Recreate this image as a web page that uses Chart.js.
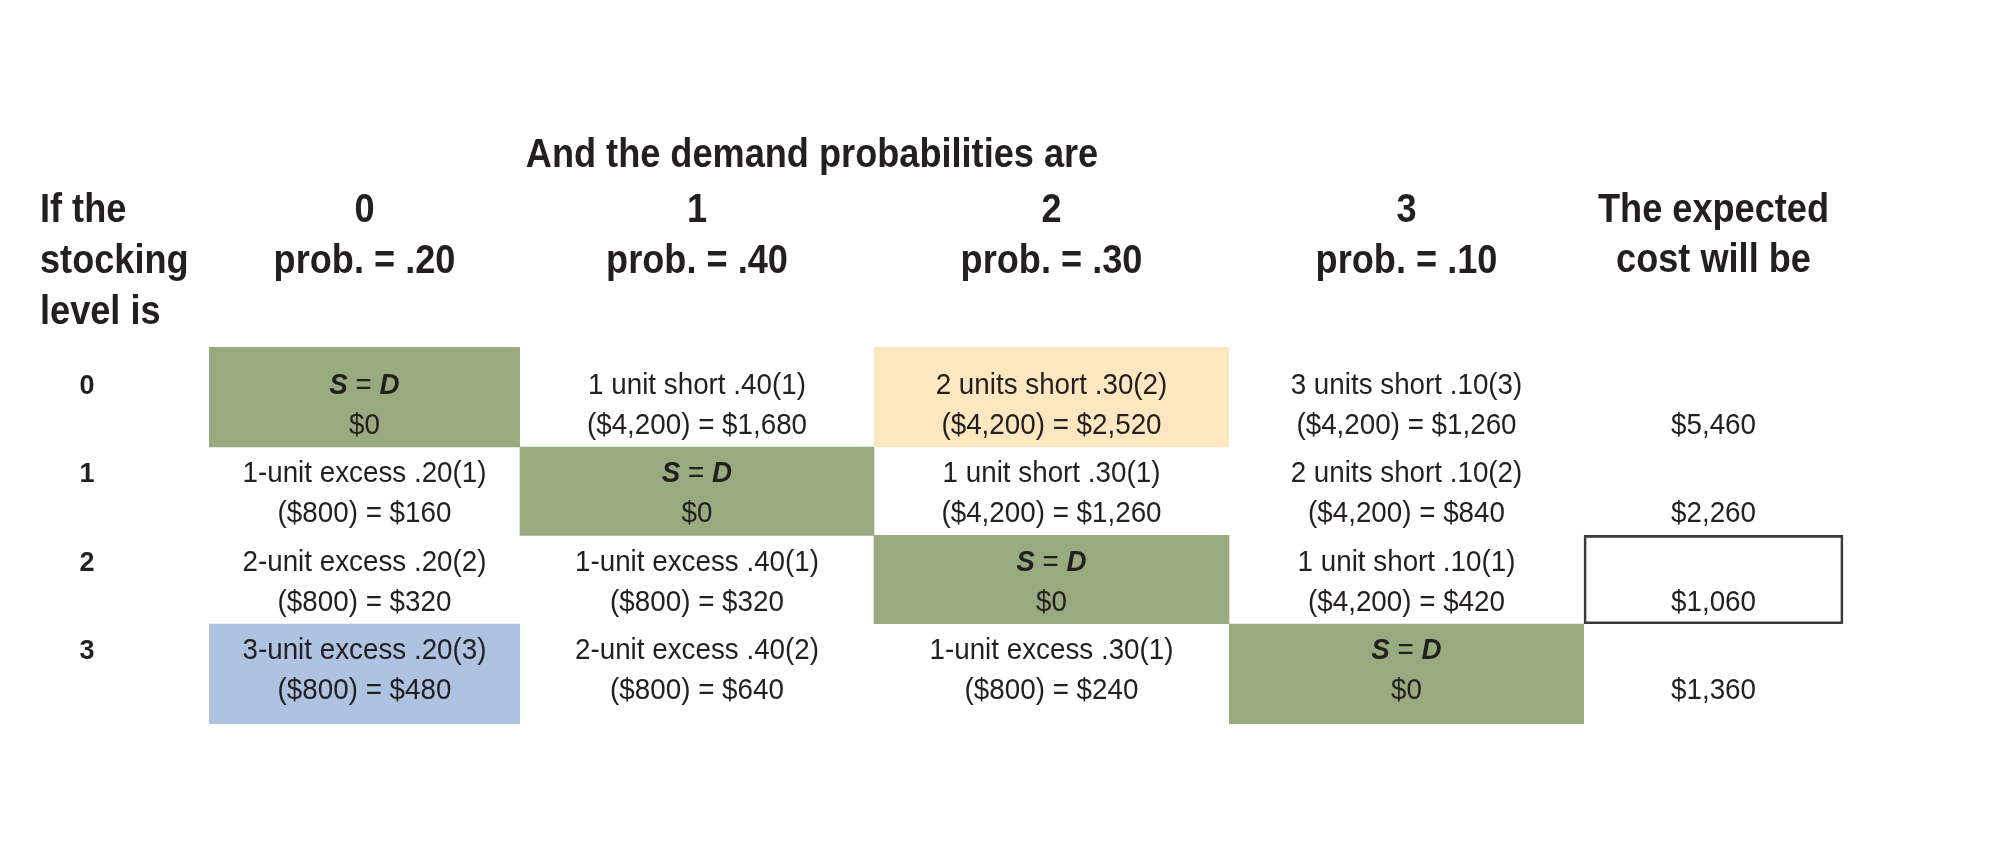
<!DOCTYPE html>
<html><head><meta charset="utf-8">
<script src="https://cdn.jsdelivr.net/npm/chart.js@4.4.1/dist/chart.umd.min.js"></script>
<style>html,body{margin:0;padding:0;background:#fff}#wrap{width:2014px;height:842px;position:relative}</style>
</head><body><div id="wrap"><canvas id="c"></canvas></div>
<script>
// ---------------- data ----------------
const titleText = 'And the demand probabilities are';
const stubHeader = ['If the', 'stocking', 'level is'];
const costHeader = ['The expected', 'cost will be'];
const stockLevels = ['0', '1', '2', '3'];
const demandLevels = ['0', '1', '2', '3'];
const demandProbs = ['.20', '.40', '.30', '.10'];
const cellTop = [
  ['S = D', '1 unit short .40(1)', '2 units short .30(2)', '3 units short .10(3)'],
  ['1-unit excess .20(1)', 'S = D', '1 unit short .30(1)', '2 units short .10(2)'],
  ['2-unit excess .20(2)', '1-unit excess .40(1)', 'S = D', '1 unit short .10(1)'],
  ['3-unit excess .20(3)', '2-unit excess .40(2)', '1-unit excess .30(1)', 'S = D']
];
const cellBottom = [
  ['$0', '($4,200) = $1,680', '($4,200) = $2,520', '($4,200) = $1,260'],
  ['($800) = $160', '$0', '($4,200) = $1,260', '($4,200) = $840'],
  ['($800) = $320', '($800) = $320', '$0', '($4,200) = $420'],
  ['($800) = $480', '($800) = $640', '($800) = $240', '$0']
];
const cellKind = [
  ['match', '', 'maxShort', ''],
  ['', 'match', '', ''],
  ['', '', 'match', ''],
  ['maxExcess', '', '', 'match']
];
const expectedCost = [5460, 2260, 1060, 1360];

// ---------------- layout / style ----------------
const colEdges = [209, 520, 874, 1229, 1584, 1843];      // x-axis units
const rowTop = [-0.634, 0.5, 1.5, 2.5];                   // y-axis units (row index)
const rowBottom = [0.5, 1.5, 2.5, 3.635];
const rowOriginPx = 403, rowPitchPx = 88.3;
const Y_MIN = -rowOriginPx / rowPitchPx, Y_MAX = (842 - rowOriginPx) / rowPitchPx;
const kindColor = { match: '#98ab7e', maxShort: '#fde7c1', maxExcess: '#aec3e2', '': 'rgba(0,0,0,0)' };
const ink = '#231f20';
const fam = '"Liberation Sans", Arial, sans-serif';

const bestRow = expectedCost.indexOf(Math.min(...expectedCost));
const fmt = v => '$' + v.toLocaleString('en-US');

// text styles: font size from cap height, horizontal squeeze to mimic a condensed face
const mctx = document.createElement('canvas').getContext('2d');
function squeeze(font, sample, target) { mctx.font = font; return target / mctx.measureText(sample).width; }
const headFont = 'bold 41px ' + fam;
const headSx = squeeze(headFont, 'The expected', 231);
const cellFont = 'normal 30px ' + fam;
const cellSx = squeeze(cellFont, '1-unit excess .20(1)', 244);
const rowLabFont = 'bold 27px ' + fam;

function txt(ctx, s, x, y, font, sx, align) {
  ctx.save();
  ctx.font = font; ctx.textAlign = align || 'center';
  ctx.translate(x, y); ctx.scale(sx, 1);
  ctx.fillText(s, 0, 0);
  ctx.restore();
}

// ---------------- datasets ----------------
const datasets = stockLevels.map((lvl, r) => {
  const kinds = cellKind[r].concat(['']);
  return {
    label: 'Stocking level ' + lvl,
    data: colEdges.slice(0, -1).map((x0, c) => ({ x: [x0, colEdges[c + 1]], y: (rowTop[r] + rowBottom[r]) / 2 })),
    backgroundColor: kinds.map(k => kindColor[k]),
    borderColor: '#3a3a3a',
    borderWidth: kinds.map((k, c) => (c === 4 && r === bestRow) ? 2 : 0),
    borderSkipped: false,
    grouped: false,
    barPercentage: rowBottom[r] - rowTop[r],
    categoryPercentage: 1
  };
});

function drawSD(ctx, cx, y) {
  const size = 30;
  const parts = [['S', 'italic bold ' + size + 'px ' + fam], [' = ', 'normal ' + size + 'px ' + fam], ['D', 'italic bold ' + size + 'px ' + fam]];
  let total = 0;
  const ws = parts.map(p => { ctx.font = p[1]; const w = ctx.measureText(p[0]).width * cellSx; total += w; return w; });
  let x = cx - total / 2;
  parts.forEach((p, i) => { txt(ctx, p[0], x, y, p[1], cellSx, 'left'); x += ws[i]; });
}

const textPlugin = {
  id: 'tableText',
  afterDatasetsDraw(chart) {
    const ctx = chart.ctx, xs = chart.scales.x, ys = chart.scales.y;
    ctx.save();
    ctx.fillStyle = ink;
    ctx.textBaseline = 'alphabetic';
    // title
    txt(ctx, titleText, xs.getPixelForValue(812), 167, headFont, headSx, 'center');
    // stub header
    stubHeader.forEach((t, i) => txt(ctx, t, 40, 222 + i * 51, headFont, headSx, 'left'));
    // column headers
    demandLevels.forEach((d, c) => {
      const cx = xs.getPixelForValue((colEdges[c] + colEdges[c + 1]) / 2);
      txt(ctx, d, cx, 222, headFont, headSx);
      txt(ctx, 'prob. = ' + demandProbs[c], cx, 273, headFont, headSx);
    });
    const cx4 = xs.getPixelForValue((colEdges[4] + colEdges[5]) / 2);
    costHeader.forEach((t, i) => txt(ctx, t, cx4, 222 + i * 50, headFont, headSx));
    // body
    stockLevels.forEach((lvl, r) => {
      const meta = chart.getDatasetMeta(r);
      const yc = ys.getPixelForValue(r);
      const b1 = yc - 9, b2 = yc + 31;
      txt(ctx, lvl, 87, b1, rowLabFont, 1);
      meta.data.forEach((el, c) => {
        const cx = (el.x + el.base) / 2;
        if (c < 4) {
          if (cellTop[r][c] === 'S = D') drawSD(ctx, cx, b1);
          else txt(ctx, cellTop[r][c], cx, b1, cellFont, cellSx);
          txt(ctx, cellBottom[r][c], cx, b2, cellFont, cellSx);
        } else {
          txt(ctx, fmt(expectedCost[r]), cx, b2, cellFont, cellSx);
        }
      });
    });
    ctx.restore();
  }
};

new Chart(document.getElementById('c'), {
  type: 'bar',
  data: { datasets },
  options: {
    indexAxis: 'y',
    responsive: true,
    maintainAspectRatio: false,
    animation: false,
    events: [],
    layout: { padding: 0 },
    scales: {
      x: { type: 'linear', min: 0, max: 2014, display: false, bounds: 'data', offset: false, grace: 0 },
      y: { type: 'linear', reverse: true, display: false, bounds: 'data', offset: false, grace: 0,
           min: Y_MIN, max: Y_MAX, ticks: { count: 2 } }
    },
    plugins: { legend: { display: false }, title: { display: false }, tooltip: { enabled: false } }
  },
  plugins: [textPlugin]
});
</script>
</body></html>
